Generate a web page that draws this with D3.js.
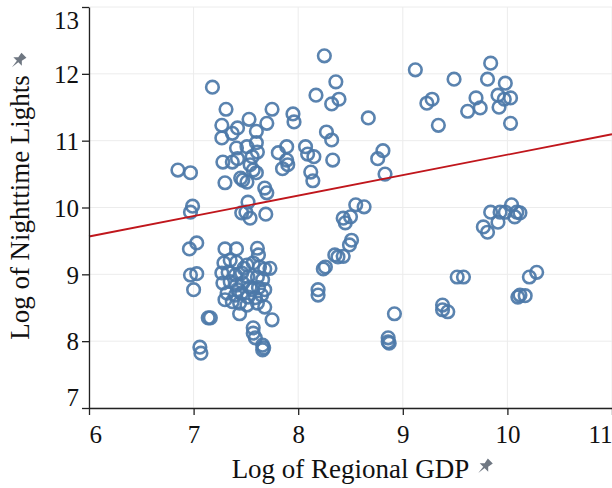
<!DOCTYPE html>
<html>
<head>
<meta charset="utf-8">
<script src="https://cdn.jsdelivr.net/npm/d3@7"></script>
<style>
  body { margin: 0; background: #fff; }
  svg { display: block; }
</style>
</head>
<body>
<div id="chart"></div>
<script>
// values: log of regional GDP / log of nighttime lights
var gdp = [8.25, 7.18, 8.36, 8.17, 8.32, 8.39, 7.31, 7.75, 7.27, 7.53, 7.70, 7.95, 7.96, 7.42, 7.37,
	7.60, 7.27, 8.27, 8.32, 7.41, 7.51, 7.60, 7.61, 7.89, 7.81, 8.07, 8.09, 8.15, 8.33, 7.28,
	7.37, 7.42, 7.54, 7.56, 7.89, 7.90, 7.85, 8.12, 8.14, 6.85, 6.97, 7.30, 7.47, 7.51, 7.57,
	7.60, 7.68, 7.70, 8.67, 8.81, 8.76, 8.83, 7.45,
	6.99, 6.97, 7.52, 7.50, 7.54, 7.46, 7.69,
	7.03, 6.96, 6.97, 7.03, 7.00, 7.14, 7.16, 7.06, 7.07, 7.30, 7.41, 7.61, 7.62, 7.73, 7.68,
	7.30, 7.44, 7.57, 7.57, 7.59, 7.75, 7.66, 7.66, 7.67,
	7.29, 7.35, 7.41, 7.51, 7.57, 7.63, 7.27, 7.33, 7.40, 7.46, 7.52, 7.61, 7.66, 7.28, 7.35,
	7.41, 7.47, 7.54, 7.62, 7.68, 7.32, 7.40, 7.46, 7.52, 7.59, 7.65, 7.37, 7.44, 7.51, 7.61,
	7.68, 7.48, 7.56, 7.42,
	8.55, 8.63, 8.43, 8.50, 8.45, 8.51, 8.49, 8.35, 8.38, 8.43, 8.26, 8.24, 8.19, 8.19, 8.92,
	8.86, 8.87, 8.86, 9.38, 9.38, 9.43, 9.52, 9.58, 9.84, 9.93, 9.77, 9.81, 9.91, 10.04, 10.12,
	10.07, 9.98, 10.09, 10.28, 10.21, 10.10, 10.17, 10.12,
	9.12, 9.49, 9.84, 9.81, 9.98, 9.23, 9.28, 9.34, 9.62, 9.70, 9.74, 9.91, 9.92, 9.97, 10.03,
	10.03];

var lights = [12.27, 11.80, 11.88, 11.68, 11.55, 11.62, 11.47, 11.47, 11.23, 11.32, 11.26, 11.40, 11.28, 11.19, 11.11,
	11.14, 11.04, 11.13, 11.01, 10.89, 10.91, 10.97, 10.83, 10.91, 10.82, 10.91, 10.80, 10.76, 10.71, 10.68,
	10.68, 10.73, 10.64, 10.76, 10.71, 10.64, 10.58, 10.53, 10.40, 10.56, 10.52, 10.37, 10.41, 10.38, 10.56,
	10.52, 10.29, 10.22, 11.34, 10.85, 10.73, 10.50, 10.44,
	10.02, 9.93, 10.08, 9.93, 9.84, 9.92, 9.90,
	9.47, 9.38, 8.99, 9.01, 8.77, 8.35, 8.35, 7.91, 7.82, 9.38, 9.38, 9.39, 9.29, 9.09, 9.08,
	8.62, 8.41, 8.20, 8.12, 8.05, 8.32, 7.94, 7.87, 7.90,
	9.17, 9.21, 9.18, 9.14, 9.17, 9.11, 9.02, 9.03, 8.99, 9.02, 8.96, 8.96, 8.92, 8.87, 8.89,
	8.84, 8.87, 8.81, 8.80, 8.77, 8.72, 8.69, 8.72, 8.66, 8.65, 8.69, 8.59, 8.57, 8.54, 8.57,
	8.51, 9.09, 8.77, 8.77,
	10.04, 10.01, 9.84, 9.86, 9.77, 9.51, 9.44, 9.29, 9.26, 9.27, 9.11, 9.08, 8.77, 8.69, 8.41,
	8.05, 7.97, 7.99, 8.54, 8.47, 8.44, 8.96, 8.96, 9.93, 9.93, 9.71, 9.63, 9.78, 10.04, 9.92,
	9.86, 9.93, 9.93, 9.03, 8.96, 8.66, 8.68, 8.69,
	12.06, 11.92, 12.16, 11.92, 11.86, 11.56, 11.62, 11.23, 11.44, 11.64, 11.49, 11.68, 11.50, 11.62, 11.64,
	11.26];

// fitted line: lights = intercept + slope * gdp
var fitIntercept = 7.73;
var fitSlope = 0.306;

var xTicks = [6, 7, 8, 9, 10, 11];
var yTicks = [7, 8, 9, 10, 11, 12, 13];
var xTitle = "Log of Regional GDP";
var yTitle = "Log of Nighttime Lights";

var width = 612, height = 488;
var plotLeft = 89, plotRight = 612, plotTop = 7, plotBottom = 408;
var font = "'Liberation Serif', 'Times New Roman', serif";

var svg = d3.select("#chart").append("svg")
	.attr("width", width)
	.attr("height", height);

var x = d3.scaleLinear().domain([6, 11]).range([plotLeft, plotRight]);
var y = d3.scaleLinear().domain([7, 13]).range([plotBottom, plotTop]);

// grid lines
svg.append("g").selectAll("line")
	.data(xTicks).enter().append("line")
	.attr("x1", function(d){ return x(d); })
	.attr("x2", function(d){ return x(d); })
	.attr("y1", plotTop).attr("y2", plotBottom)
	.attr("stroke", "#ececec").attr("stroke-width", 1);

svg.append("g").selectAll("line")
	.data(yTicks).enter().append("line")
	.attr("x1", plotLeft).attr("x2", plotRight)
	.attr("y1", function(d){ return y(d); })
	.attr("y2", function(d){ return y(d); })
	.attr("stroke", "#ececec").attr("stroke-width", 1);

// points
var points = gdp.map(function(g, i){ return {gdp: g, lights: lights[i]}; });

svg.append("g").selectAll("circle")
	.data(points).enter().append("circle")
	.attr("cx", function(d){ return x(d.gdp); })
	.attr("cy", function(d){ return y(d.lights); })
	.attr("r", 6.3)
	.attr("fill", "none")
	.attr("stroke", "#4c78a8")
	.attr("stroke-opacity", 0.92)
	.attr("stroke-width", 2.6);

// regression line
var fit = x.domain().map(function(g){ return {gdp: g, lights: fitIntercept + fitSlope * g}; });
svg.append("path")
	.datum(fit)
	.attr("d", d3.line().x(function(d){ return x(d.gdp); }).y(function(d){ return y(d.lights); }))
	.attr("fill", "none")
	.attr("stroke", "#c0161c")
	.attr("stroke-width", 1.8);

// axes
var xAxis = svg.append("g")
	.attr("transform", "translate(0," + plotBottom + ")")
	.call(d3.axisBottom(x).tickValues(xTicks).tickSize(7).tickSizeOuter(0).tickFormat(d3.format("d")));

var yAxis = svg.append("g")
	.attr("transform", "translate(" + plotLeft + ",0)")
	.call(d3.axisLeft(y).tickValues(yTicks).tickSize(7).tickSizeOuter(0).tickFormat(d3.format("d")));

[xAxis, yAxis].forEach(function(a){
	a.select(".domain").attr("stroke", "#222").attr("stroke-width", 1.3);
	a.selectAll(".tick line").attr("stroke", "#222").attr("stroke-width", 1.3);
	a.selectAll(".tick text")
		.attr("font-family", font)
		.attr("font-size", "25px")
		.attr("fill", "#111");
});

// flush the end labels like the original
xAxis.selectAll(".tick text")
	.attr("dy", "0.95em")
	.attr("y", 11)
	.attr("text-anchor", function(d){ return d == 6 ? "start" : (d == 11 ? "end" : "middle"); });

yAxis.selectAll(".tick text")
	.attr("x", -10)
	.attr("dy", function(d){ return d == 13 ? "0.85em" : (d == 7 ? "-0.1em" : "0.35em"); });

// pin icon drawn next to each title (head upper right, needle lower left)
function pin(g){
	g.append("path")
		.attr("d", "M-3.5,-7 L3.5,-7 L2.5,-1.5 L6,2 L-6,2 L-2.5,-1.5 Z M-1,2 L1,2 L0,10 Z")
		.attr("fill", "#6f7782");
}

var xt = svg.append("text")
	.attr("x", (plotLeft + plotRight) / 2)
	.attr("y", 478)
	.attr("text-anchor", "middle")
	.attr("font-family", font)
	.attr("font-size", "27px")
	.attr("fill", "#111")
	.text(xTitle);
var xw = xt.node().getComputedTextLength();
svg.append("g")
	.attr("transform", "translate(" + ((plotLeft + plotRight) / 2 + xw / 2 + 16) + ",466)rotate(45)")
	.call(pin);

var yt = svg.append("text")
	.attr("transform", "translate(29," + ((plotTop + plotBottom) / 2) + ")rotate(-90)")
	.attr("text-anchor", "middle")
	.attr("font-family", font)
	.attr("font-size", "27px")
	.attr("fill", "#111")
	.text(yTitle);
var yw = yt.node().getComputedTextLength();
svg.append("g")
	.attr("transform", "translate(19," + ((plotTop + plotBottom) / 2 - yw / 2 - 15) + ")rotate(45)")
	.call(pin);
</script>
</body>
</html>
